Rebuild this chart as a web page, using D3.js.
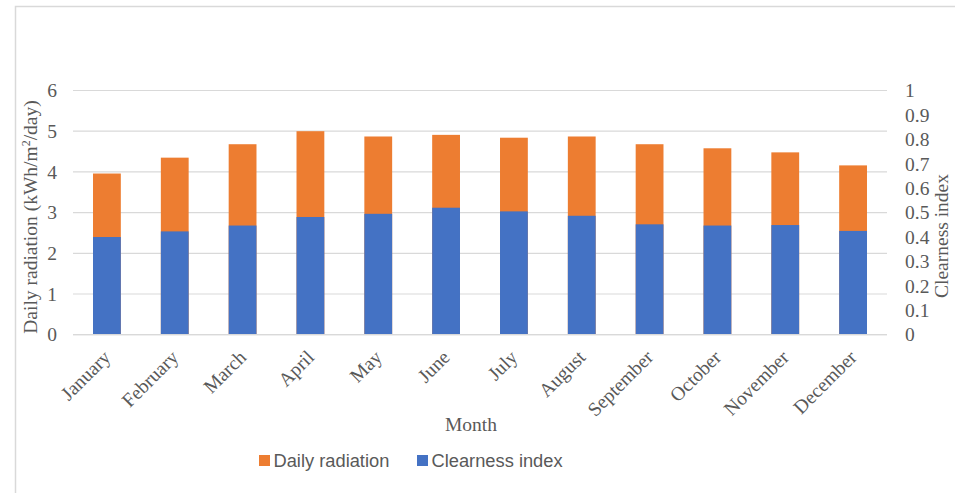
<!DOCTYPE html>
<html>
<head>
<meta charset="utf-8">
<script src="https://cdn.jsdelivr.net/npm/d3@7/dist/d3.min.js"></script>
<style>
  html, body { margin: 0; padding: 0; background: #fff; }
  svg { display: block; }
</style>
</head>
<body>
<svg id="chart" width="955" height="493"></svg>
<script>
// Monthly averages
const months = ["January","February","March","April","May","June","July","August","September","October","November","December"];
const dailyRadiation = [3.96, 4.35, 4.68, 5.00, 4.87, 4.91, 4.84, 4.87, 4.68, 4.58, 4.48, 4.16];
const clearnessIndex = [0.400, 0.423, 0.447, 0.482, 0.495, 0.520, 0.505, 0.487, 0.452, 0.447, 0.449, 0.425];
const leftTicks = [0, 1, 2, 3, 4, 5, 6];
const rightTicks = [0, 0.1, 0.2, 0.3, 0.4, 0.5, 0.6, 0.7, 0.8, 0.9, 1];

const svg = d3.select("#chart");
const W = 955, H = 493;
const m = { left: 73, right: 887, top: 90.5, bottom: 334.7 };

const serif = "'Liberation Serif', 'Times New Roman', serif";
const sans = "'Liberation Sans', Arial, sans-serif";
const fs = 19.5;
const textColor = "#595959";
const gridColor = "#d9d9d9";
const orange = "#ed7d31";
const blue = "#4472c4";

// Outer frame
svg.append("path")
  .attr("d", `M15.5,${H} V6.5 H${W}`)
  .attr("fill", "none").attr("stroke", gridColor).attr("stroke-width", 1.5);

const x = d3.scaleBand().domain(months).range([m.left, m.right]).paddingInner(0.59).paddingOuter(0.295);
const yL = d3.scaleLinear().domain([0, 6]).range([m.bottom, m.top]);
const yR = d3.scaleLinear().domain([0, 1]).range([m.bottom, m.top]);

// Gridlines
svg.append("g").selectAll("line").data(leftTicks).join("line")
  .attr("x1", m.left).attr("x2", m.right)
  .attr("y1", d => yL(d)).attr("y2", d => yL(d))
  .attr("stroke", gridColor).attr("stroke-width", 1.2);

// Daily radiation bars
svg.append("g").selectAll("rect").data(months).join("rect")
  .attr("x", d => x(d)).attr("width", x.bandwidth())
  .attr("y", (d, i) => yL(dailyRadiation[i]))
  .attr("height", (d, i) => yL(0) - yL(dailyRadiation[i]))
  .attr("fill", orange);

// Clearness index bars (right axis), drawn over the radiation bars
svg.append("g").selectAll("rect").data(months).join("rect")
  .attr("x", d => x(d)).attr("width", x.bandwidth())
  .attr("y", (d, i) => yR(clearnessIndex[i]))
  .attr("height", (d, i) => yR(0) - yR(clearnessIndex[i]))
  .attr("fill", blue);

// Left axis
const axL = svg.append("g").attr("transform", `translate(${m.left},0)`)
  .call(d3.axisLeft(yL).tickValues(leftTicks).tickSize(0).tickPadding(16).tickFormat(d3.format("d")));
axL.select(".domain").remove();
axL.selectAll("text").attr("font-family", serif).attr("font-size", fs).attr("fill", textColor);

// Right axis
const axR = svg.append("g").attr("transform", `translate(${m.right},0)`)
  .call(d3.axisRight(yR).tickValues(rightTicks).tickSize(0).tickPadding(18).tickFormat(d => d3.format("~g")(d)));
axR.select(".domain").remove();
axR.selectAll("text").attr("font-family", serif).attr("font-size", fs).attr("fill", textColor);

// Bottom axis
const axB = svg.append("g").attr("transform", `translate(0,${m.bottom})`)
  .call(d3.axisBottom(x).tickSize(0).tickPadding(0));
axB.select(".domain").attr("stroke", gridColor).attr("stroke-width", 1.2)
  .attr("d", `M${m.left},0H${m.right}`);
axB.selectAll("text")
  .attr("font-family", serif).attr("font-size", fs).attr("fill", textColor)
  .attr("text-anchor", "end")
  .attr("dy", "0.35em")
  .attr("transform", "translate(0,19) rotate(-45)");

// Axis titles
svg.append("text")
  .attr("transform", `translate(37,217) rotate(-90)`)
  .attr("text-anchor", "middle")
  .attr("font-family", serif).attr("font-size", fs).attr("fill", textColor)
  .html("Daily radiation (kWh/m<tspan baseline-shift='super' font-size='12'>2</tspan>/day)");

svg.append("text")
  .attr("transform", `translate(948,236) rotate(-90)`)
  .attr("text-anchor", "middle")
  .attr("font-family", serif).attr("font-size", fs).attr("fill", textColor)
  .text("Clearness index");

svg.append("text")
  .attr("x", 471).attr("y", 431)
  .attr("text-anchor", "middle")
  .attr("font-family", serif).attr("font-size", fs).attr("fill", textColor)
  .text("Month");

// Legend
const legend = [
  { name: "Daily radiation", color: orange, x: 259 },
  { name: "Clearness index", color: blue, x: 417 }
];
const lg = svg.append("g").selectAll("g").data(legend).join("g")
  .attr("transform", d => `translate(${d.x},455)`);
lg.append("rect").attr("width", 11).attr("height", 11).attr("fill", d => d.color);
lg.append("text").attr("x", 14.5).attr("y", 12)
  .attr("font-family", sans).attr("font-size", 18.3).attr("fill", textColor)
  .text(d => d.name);
</script>
</body>
</html>
